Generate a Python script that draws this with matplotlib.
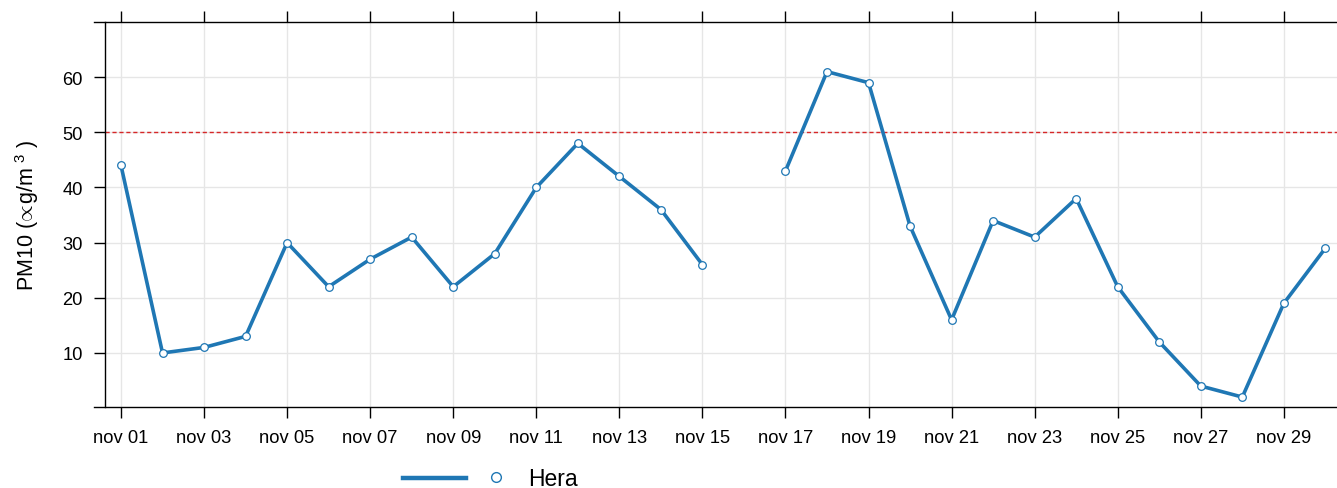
import numpy as np
import matplotlib
matplotlib.use("Agg")
import matplotlib.pyplot as plt
from matplotlib.lines import Line2D

plt.rcParams['font.family'] = ['Liberation Sans', 'DejaVu Sans']
plt.rcParams['mathtext.fontset'] = 'custom'
plt.rcParams['mathtext.rm'] = 'Liberation Sans'

# dati giornalieri PM10, novembre (nov 16 mancante)
giorni = list(range(1, 31))
pm10 = [44, 10, 11, 13, 30, 22, 27, 31, 22, 28, 40, 48, 42, 36, 26,
        np.nan, 43, 61, 59, 33, 16, 34, 31, 38, 22, 12, 4, 2, 19, 29]
tick_giorni = list(range(1, 31, 2))
tick_label = ["nov %02d" % g for g in tick_giorni]
y_ticks = [10, 20, 30, 40, 50, 60]
soglia = 50

blu = "#1f77b4"

W, H = 1337, 489
fig = plt.figure(figsize=(W / 100, H / 100), dpi=100)
ax = fig.add_axes([105 / W, 1 - 408 / H, (W - 105) / W, (408 - 23) / H])

ax.plot(giorni, pm10, color=blu, lw=2.6, marker='o', ms=5.5,
        mfc='white', mec=blu, mew=0.9, zorder=3)
ax.axhline(soglia, color="#d62728", lw=1, ls=(0, (3, 2)), zorder=2)

ax.set_xlim(0.615, 30.28)
ax.set_ylim(0.2, 70)
ax.set_xticks(tick_giorni)
ax.set_xticklabels(tick_label)
ax.set_yticks(y_ticks)
ax.grid(True, color="#e6e6e6", lw=1)
ax.set_axisbelow(True)

# assi stile lattice: linee orizzontali che sporgono a sinistra
for s in ['right', 'top', 'bottom']:
    ax.spines[s].set_visible(False)
ax.spines['left'].set_linewidth(1)
sx = -11 / (W - 105)
for yy in (0, 1):
    ax.add_line(Line2D([sx, 1], [yy, yy], transform=ax.transAxes, color='black',
                       lw=1, clip_on=False, zorder=4))

ax.tick_params(axis='x', top=True, direction='out', length=8, width=1,
               labelsize=13.2, pad=8)
ax.tick_params(axis='y', direction='out', length=8, width=1, labelsize=13.2, pad=8)

ax.set_ylabel(r"PM10 ($\!\propto\!$g/m$^{\ 3}$ )", fontsize=15.5)
ax.yaxis.set_label_coords(-64 / (W - 105), 0.5)

# legenda in basso
h_linea = Line2D([], [], color=blu, lw=3.2)
h_punto = Line2D([], [], color=blu, ls='', marker='o', ms=7, mfc='white', mew=1)
fig.legend([h_linea], [""], loc='center', bbox_to_anchor=(440 / W, 1 - 480 / H),
           frameon=False, handlelength=4.6)
fig.legend([h_punto], ["Hera"], loc='center left', bbox_to_anchor=(452 / W, 1 - 480 / H),
           frameon=False, fontsize=16.5, handletextpad=0.4)

fig.savefig("out.png", dpi=100)
